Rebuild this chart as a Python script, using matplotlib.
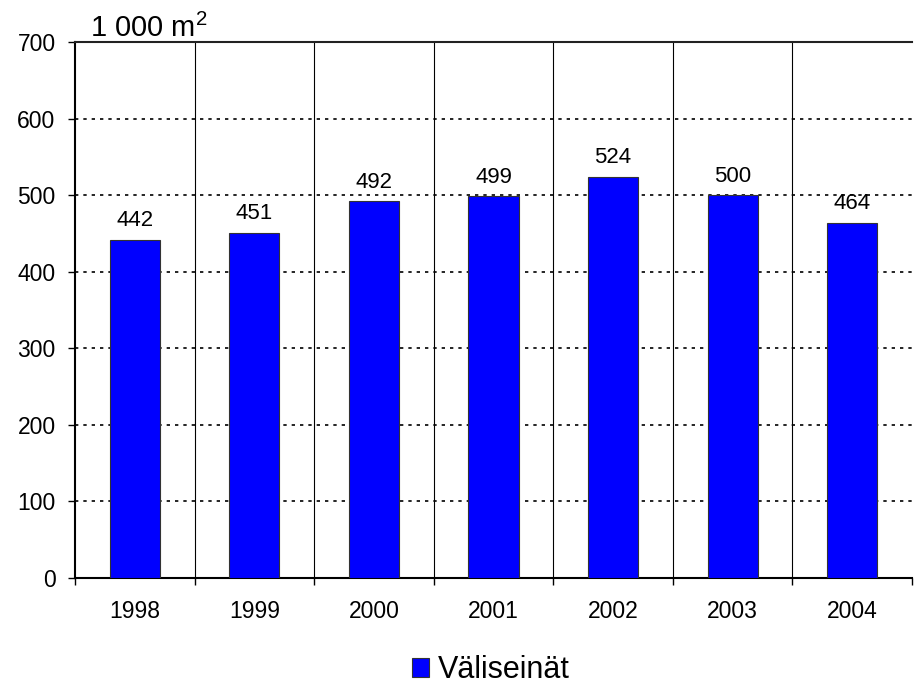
import matplotlib
matplotlib.use("Agg")
import matplotlib.pyplot as plt
import numpy as np

years = ["1998", "1999", "2000", "2001", "2002", "2003", "2004"]
values = [442, 451, 492, 499, 524, 500, 464]
series_name = "Väliseinät"
unit_label = "1 000 m$^2$"

plt.rcParams['font.family'] = ['Liberation Sans', 'DejaVu Sans']
plt.rcParams['mathtext.fontset'] = 'custom'
plt.rcParams['mathtext.rm'] = 'Liberation Sans'

fig = plt.figure(figsize=(9.19, 6.84), dpi=100)
ax = fig.add_axes([0.0816, 0.155, 0.9108, 0.7836])

x = np.arange(len(years))
bars = ax.bar(x, values, width=0.42, color="#0000FF", edgecolor="#333333",
              linewidth=0.8, label=series_name, zorder=3)

ax.set_xlim(-0.5, len(years) - 0.5)
ax.set_ylim(0, 700)
ax.set_yticks(np.arange(0, 701, 100))
ax.set_xticks(x)
ax.set_xticklabels(years)
ax.set_xticks(np.arange(-0.5, len(years), 1.0), minor=True)

ax.tick_params(axis='x', which='major', length=0, pad=15.5, labelsize=16.5)
ax.tick_params(axis='x', which='minor', length=5, width=1, direction='out')
ax.tick_params(axis='y', length=5, width=1, direction='out', labelsize=16.5, pad=9)

for yv in range(100, 700, 100):
    ax.axhline(yv, color='black', linestyle=(0, (2, 3)), linewidth=1.2, zorder=1)
for xv in np.arange(0.5, len(years) - 0.5, 1.0):
    ax.axvline(xv, color='black', linewidth=0.8, zorder=1)

ax.spines['right'].set_visible(False)
ax.spines['top'].set_linewidth(1.5)
ax.spines['left'].set_linewidth(1.5)
ax.spines['bottom'].set_linewidth(1.5)
ax.spines['top'].set_color('#222222')

for b, v in zip(bars, values):
    ax.annotate(str(v), (b.get_x() + b.get_width() / 2, v), xytext=(0, 6),
                textcoords='offset points', ha='center', va='bottom', fontsize=16)

fig.text(0.098, 0.946, unit_label, fontsize=21, ha='left', va='baseline')

fig.legend(handles=[bars], labels=[series_name], loc='center', bbox_to_anchor=(0.534, 0.02),
           frameon=False, fontsize=22, handlelength=0.55, handleheight=0.6,
           handletextpad=0.3, borderaxespad=0, borderpad=0)

fig.savefig("out.png", dpi=100)
